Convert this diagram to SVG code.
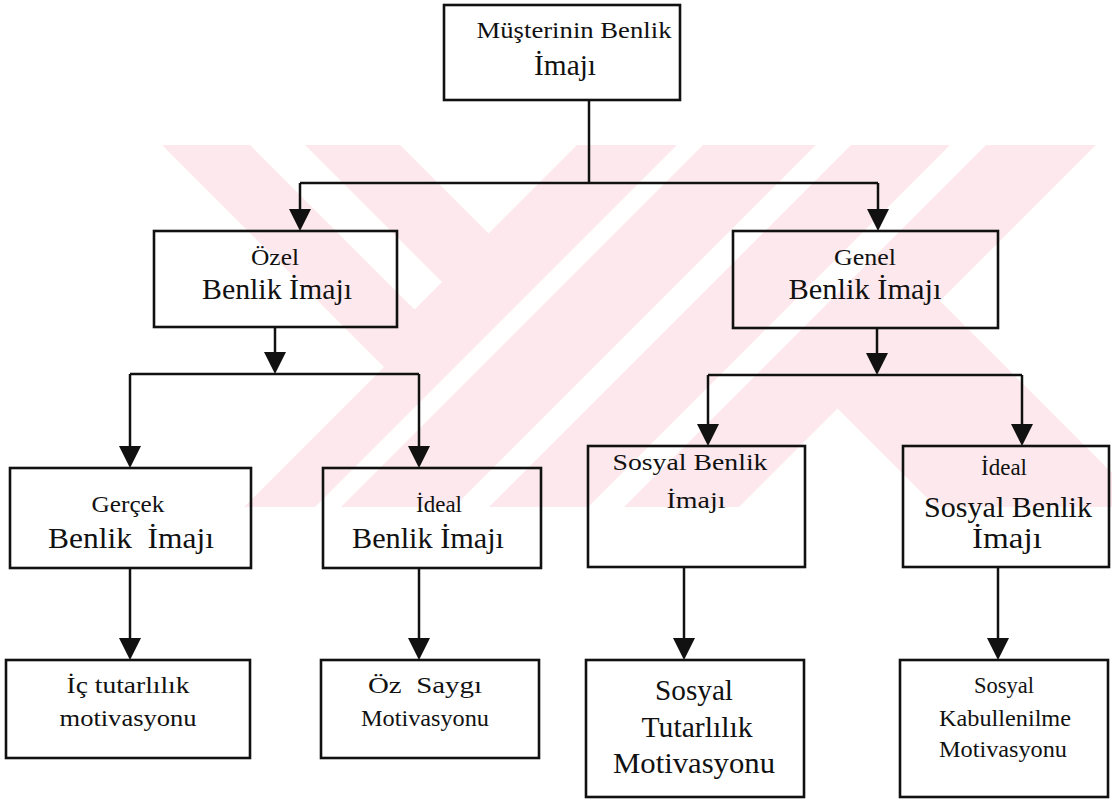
<svg xmlns="http://www.w3.org/2000/svg" width="1112" height="799" viewBox="0 0 1112 799">
  <defs>
    <style>
      .box { fill: none; stroke: #111; stroke-width: 2.6; }
      .wire { fill: none; stroke: #111; stroke-width: 2.5; }
      .t { fill: #111; text-anchor: middle; }
      .s { font-size: 23px; }
      .m { font-size: 24px; }
      .b { font-size: 29px; }
      .wm { fill: #fde9ed; }
      .gap { fill: #ffffff; }
    </style>
    <marker id="ah" viewBox="0 0 22 22" refX="18" refY="11" markerWidth="22" markerHeight="22" markerUnits="userSpaceOnUse" orient="auto">
      <path d="M0,0 L22,11 L0,22 Z" fill="#111"/>
    </marker>
    <clipPath id="wmClip">
      <rect x="0" y="145" width="1112" height="362"/>
    </clipPath>
  </defs>

  <rect x="0" y="0" width="1112" height="799" fill="#ffffff"/>

  <!-- pale background emblem made of diagonal stripes -->
  <g id="emblem" clip-path="url(#wmClip)">
    <polygon class="wm" points="162,145 1096,145 940,301 1146,507 244,507 384,367"/>
    <polygon class="gap" points="250,145 305,145 442,282 414.5,309.5"/>
    <polygon class="gap" points="400,145 577,145 488.5,233.5"/>
    <polygon class="gap" points="677,145 703,145 341,507 315,507"/>
    <polygon class="gap" points="816,145 851,145 489,507 454,507"/>
    <polygon class="gap" points="950,145 986,145 624,507 588,507"/>
    <polygon class="gap" points="837.5,408.5 739,507 936,507"/>
  </g>

  <!-- connectors -->
  <g id="connectors">
    <path class="wire" d="M589,100 V183"/>
    <path class="wire" d="M300,183 H878"/>
    <path class="wire" d="M300,183 V227" marker-end="url(#ah)"/>
    <path class="wire" d="M878,183 V227" marker-end="url(#ah)"/>

    <path class="wire" d="M275,327 V370" marker-end="url(#ah)"/>
    <path class="wire" d="M130,374 H419"/>
    <path class="wire" d="M130,374 V464" marker-end="url(#ah)"/>
    <path class="wire" d="M419,374 V464" marker-end="url(#ah)"/>

    <path class="wire" d="M877,328 V371" marker-end="url(#ah)"/>
    <path class="wire" d="M708,375 H1022"/>
    <path class="wire" d="M708,375 V442" marker-end="url(#ah)"/>
    <path class="wire" d="M1022,375 V442" marker-end="url(#ah)"/>

    <path class="wire" d="M130,568 V656" marker-end="url(#ah)"/>
    <path class="wire" d="M419,568 V656" marker-end="url(#ah)"/>
    <path class="wire" d="M684,567 V656" marker-end="url(#ah)"/>
    <path class="wire" d="M998,567 V656" marker-end="url(#ah)"/>
  </g>

  <g font-family="'Liberation Serif', 'Times New Roman', Times, serif">
    <!-- root -->
    <g id="musteri-benlik-imaji">
      <rect class="box" x="444" y="5" width="236" height="95"/>
      <text class="t s" x="574" y="38" textLength="195" lengthAdjust="spacingAndGlyphs">Müşterinin Benlik</text>
      <text class="t b" x="565" y="75" textLength="62" lengthAdjust="spacingAndGlyphs">İmajı</text>
    </g>

    <!-- second level -->
    <g id="ozel-benlik-imaji">
      <rect class="box" x="154" y="231" width="243" height="96"/>
      <text class="t s" x="275" y="265" textLength="48" lengthAdjust="spacingAndGlyphs">Özel</text>
      <text class="t b" x="277" y="299" textLength="150" lengthAdjust="spacingAndGlyphs">Benlik İmajı</text>
    </g>
    <g id="genel-benlik-imaji">
      <rect class="box" x="733" y="231" width="265" height="97"/>
      <text class="t s" x="865" y="265" textLength="62" lengthAdjust="spacingAndGlyphs">Genel</text>
      <text class="t b" x="865" y="299" textLength="153" lengthAdjust="spacingAndGlyphs">Benlik İmajı</text>
    </g>

    <!-- third level -->
    <g id="gercek-benlik-imaji">
      <rect class="box" x="10" y="468" width="241" height="100"/>
      <text class="t s" x="128" y="512" textLength="73" lengthAdjust="spacingAndGlyphs">Gerçek</text>
      <text class="t b" x="131" y="548" textLength="166" lengthAdjust="spacingAndGlyphs" xml:space="preserve">Benlik  İmajı</text>
    </g>
    <g id="ideal-benlik-imaji">
      <rect class="box" x="323" y="468" width="218" height="100"/>
      <text class="t s" x="439" y="512">İdeal</text>
      <text class="t b" x="428" y="548" textLength="152" lengthAdjust="spacingAndGlyphs">Benlik İmajı</text>
    </g>
    <g id="sosyal-benlik-imaji">
      <rect class="box" x="588" y="446" width="217" height="121"/>
      <text class="t m" x="690" y="470" textLength="155" lengthAdjust="spacingAndGlyphs">Sosyal Benlik</text>
      <text class="t m" x="696" y="508" textLength="59" lengthAdjust="spacingAndGlyphs">İmajı</text>
    </g>
    <g id="ideal-sosyal-benlik-imaji">
      <rect class="box" x="903" y="446" width="206" height="121"/>
      <text class="t s" x="1004" y="475">İdeal</text>
      <text class="t b" x="1008" y="517" textLength="168" lengthAdjust="spacingAndGlyphs">Sosyal Benlik</text>
      <text class="t b" x="1007" y="548" textLength="70" lengthAdjust="spacingAndGlyphs">İmajı</text>
    </g>

    <!-- motivations -->
    <g id="ic-tutarlilik">
      <rect class="box" x="6" y="660" width="244" height="98"/>
      <text class="t m" x="128" y="693" textLength="123" lengthAdjust="spacingAndGlyphs">İç tutarlılık</text>
      <text class="t m" x="128" y="726" textLength="137" lengthAdjust="spacingAndGlyphs">motivasyonu</text>
    </g>
    <g id="oz-saygi">
      <rect class="box" x="321" y="660" width="218" height="98"/>
      <text class="t m" x="425" y="693" textLength="114" lengthAdjust="spacingAndGlyphs" xml:space="preserve">Öz  Saygı</text>
      <text class="t m" x="425" y="726" textLength="128" lengthAdjust="spacingAndGlyphs">Motivasyonu</text>
    </g>
    <g id="sosyal-tutarlilik">
      <rect class="box" x="586" y="660" width="218" height="137"/>
      <text class="t b" x="694" y="700" textLength="78" lengthAdjust="spacingAndGlyphs">Sosyal</text>
      <text class="t b" x="697" y="737" textLength="111" lengthAdjust="spacingAndGlyphs">Tutarlılık</text>
      <text class="t b" x="694" y="773" textLength="162" lengthAdjust="spacingAndGlyphs">Motivasyonu</text>
    </g>
    <g id="sosyal-kabullenilme">
      <rect class="box" x="900" y="660" width="208" height="137"/>
      <text class="t m" x="1004" y="693" textLength="60" lengthAdjust="spacingAndGlyphs">Sosyal</text>
      <text class="t m" x="1005" y="726" textLength="132" lengthAdjust="spacingAndGlyphs">Kabullenilme</text>
      <text class="t m" x="1003" y="757" textLength="128" lengthAdjust="spacingAndGlyphs">Motivasyonu</text>
    </g>
  </g>
</svg>
